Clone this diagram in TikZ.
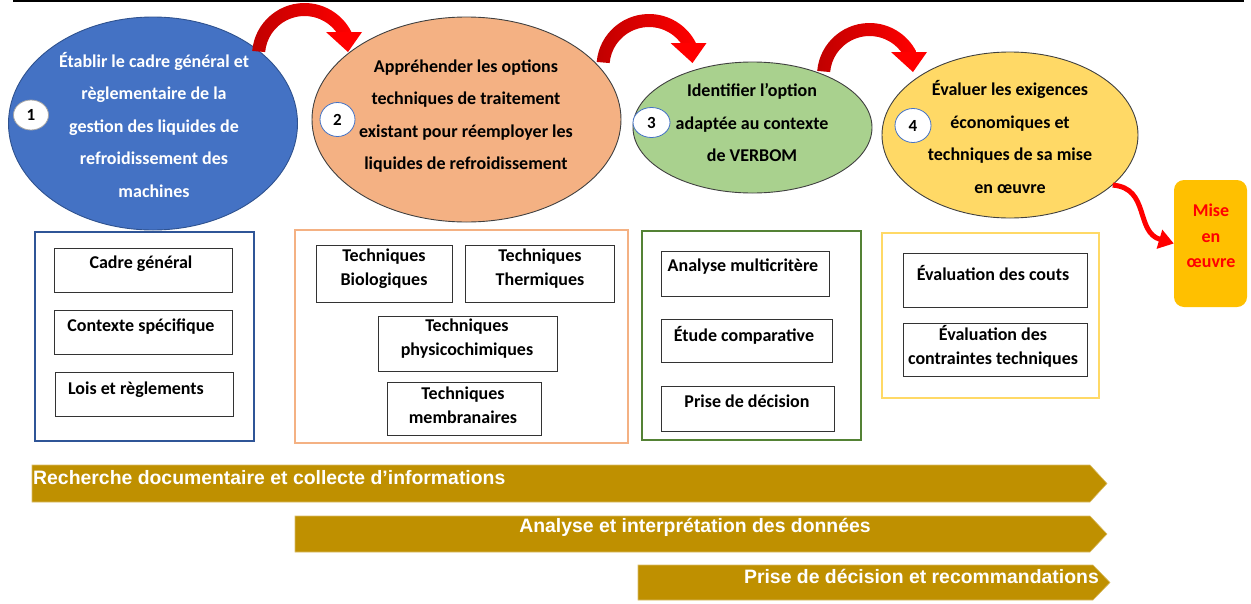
\documentclass[tikz,border=0pt]{standalone}
\usepackage{fontspec}
\setmainfont{Carlito}
\newfontfamily\bannerfont{Liberation Sans}
\usetikzlibrary{arrows.meta,shapes.geometric}
\definecolor{eblue}{HTML}{4472C4}
\definecolor{eblueline}{HTML}{2F528F}
\definecolor{eorange}{HTML}{F4B183}
\definecolor{egreen}{HTML}{A9D18E}
\definecolor{eyellow}{HTML}{FFD966}
\definecolor{gblue}{HTML}{2F5597}
\definecolor{ggreen}{HTML}{548235}
\definecolor{bargold}{HTML}{BF9000}
\definecolor{miseor}{HTML}{FFC000}
\definecolor{adark}{HTML}{C00000}
\definecolor{ared}{HTML}{FF0000}
\begin{document}
\begin{tikzpicture}[x=1pt,y=-1pt,
  bigell/.style={ellipse, inner sep=0pt, line width=0.9pt, draw=black!75},
  numc/.style={ellipse, fill=white, draw=eblue, line width=0.8pt, inner sep=0pt,
    font=\fontsize{17}{17}\selectfont\bfseries},
  etext/.style={align=center, inner sep=0pt, font=\fontsize{18}{32.5}\selectfont\bfseries},
  grp/.style={rectangle, line width=2.8pt, inner sep=0pt},
  ibox/.style={rectangle, draw=black!80, line width=0.9pt, inner sep=0pt},
  itext/.style={align=center, inner sep=0pt, font=\fontsize{18}{24}\selectfont\bfseries},
  bar/.style={fill=bargold, draw=bargold!60!white, line width=0.6pt},
  btext/.style={inner sep=0pt, text=white, font=\bannerfont\fontsize{19.4}{22}\selectfont\bfseries},
  redarc/.pic={
    \shade[left color=adark, right color=ared] (-6.8,-1.07)
      arc[start angle=185, end angle=333, radius=52.5] -- ++(153:13)
      arc[start angle=333, end angle=185, radius=39.5] -- cycle;
    \fill[ared] (67,-20) -- (103,-20) -- (89,0) -- cycle;
  }]
\useasboundingbox (0,0) rectangle (1251,603);

% top rule
\draw[line width=2pt, black] (13,1.2) -- (1244,1.2);

% ellipses
\node[bigell, fill=eblue, draw=eblueline, minimum width=289pt, minimum height=213pt] (e1) at (153,123.5) {};
\node[bigell, fill=eorange, minimum width=309pt, minimum height=205pt] (e2) at (466.5,119.5) {};
\node[bigell, fill=egreen, minimum width=239pt, minimum height=131pt] (e3) at (752.5,127.5) {};
\node[bigell, fill=eyellow, minimum width=256pt, minimum height=166pt] (e4) at (1010,135) {};

\node[etext, text=white] (et1) at (154,125) {Établir le cadre général et\\règlementaire de la\\gestion des liquides de\\refroidissement des\\machines};
\node[etext] (et2) at (466,116) {Appréhender les options\\techniques de traitement\\existant pour réemployer les\\liquides de refroidissement};
\node[etext] (et3) at (752,123) {Identifier l’option\\adaptée au contexte\\de VERBOM};
\node[etext] (et4) at (1010,137) {Évaluer les exigences\\économiques et\\techniques de sa mise\\en œuvre};

% number circles
\node[numc, draw=black!35, minimum width=35pt, minimum height=30pt] (n1) at (31,115) {1};
\node[numc, minimum width=35pt, minimum height=34pt] (n2) at (337.5,119.5) {2};
\node[numc, minimum width=37pt, minimum height=30pt] (n3) at (651.5,122.5) {3};
\node[numc, minimum width=36pt, minimum height=34pt] (n4) at (913,125.5) {4};

% curved red arrows between steps
\coordinate (s1) at (259,52);
\coordinate (s2) at (603.5,63);
\coordinate (s3) at (824,72);
\pic at (s1) {redarc};
\pic at (s2) {redarc};
\pic at (s3) {redarc};

% Mise en oeuvre
\node[rectangle, rounded corners=10pt, fill=miseor, minimum width=73pt, minimum height=127pt, inner sep=0pt] (mise) at (1210.5,243.5) {};
\node[align=center, inner sep=0pt, text=ared, font=\fontsize{18}{25.5}\selectfont\bfseries] (mtext) at (1211,236) {Mise\\en\\œuvre};
\draw[ared, line width=5pt, -{Triangle[length=15pt,width=19pt]}] (e4.-26) .. controls (1150,188) and (1135,232) .. (mise.west);

% group boxes
\node[grp, draw=gblue, minimum width=219pt, minimum height=209pt] (g1) at (144.5,336.5) {};
\node[grp, draw=eorange, minimum width=333pt, minimum height=213pt] (g2) at (461.5,336.5) {};
\node[grp, draw=ggreen, minimum width=219pt, minimum height=209pt] (g3) at (751.5,335.5) {};
\node[grp, draw=eyellow, minimum width=217pt, minimum height=165pt] (g4) at (990.5,315.5) {};

% inner boxes
\node[ibox, minimum width=178pt, minimum height=44pt] (b1a) at (143,270) {};
\node[ibox, minimum width=178pt, minimum height=44pt] (b1b) at (143,332) {};
\node[ibox, minimum width=178pt, minimum height=44pt] (b1c) at (144,394) {};
\node[ibox, minimum width=136pt, minimum height=57pt] (b2a) at (384,273.5) {};
\node[ibox, minimum width=149pt, minimum height=57pt] (b2b) at (539.5,273.5) {};
\node[ibox, minimum width=179pt, minimum height=55pt] (b2c) at (467.5,343.5) {};
\node[ibox, minimum width=154pt, minimum height=53pt] (b2d) at (464,408.5) {};
\node[ibox, minimum width=168pt, minimum height=45pt] (b3a) at (745,273.5) {};
\node[ibox, minimum width=171pt, minimum height=43pt] (b3b) at (746.5,340.5) {};
\node[ibox, minimum width=173pt, minimum height=45pt] (b3c) at (747.5,408.5) {};
\node[ibox, minimum width=184pt, minimum height=54pt] (b4a) at (995,280) {};
\node[ibox, minimum width=184pt, minimum height=53pt] (b4b) at (995,349.5) {};

\node[itext] (t1a) at (141,264) {Cadre général};
\node[itext] (t1b) at (141,327) {Contexte spécifique};
\node[itext] (t1c) at (136,390) {Lois et règlements};
\node[itext] (t2a) at (384,269) {Techniques\\Biologiques};
\node[itext] (t2b) at (540,269) {Techniques\\Thermiques};
\node[itext] (t2c) at (467,339) {Techniques\\physicochimiques};
\node[itext] (t2d) at (463,405) {Techniques\\membranaires};
\node[itext] (t3a) at (743,267) {Analyse multicritère};
\node[itext] (t3b) at (744,335) {Étude comparative};
\node[itext] (t3c) at (747,401) {Prise de décision};
\node[itext] (t4a) at (993,273) {Évaluation des couts};
\node[itext] (t4b) at (993,346) {Évaluation des\\contraintes techniques};

% banners
\filldraw[bar] (32,465) -- (1090,465) -- (1107,483.5) -- (1090,502) -- (32,502) -- cycle;
\filldraw[bar] (295,516) -- (1090,516) -- (1107,534) -- (1090,552) -- (295,552) -- cycle;
\filldraw[bar] (638,565) -- (1093,565) -- (1110,582.5) -- (1093,600) -- (638,600) -- cycle;
\node[btext, anchor=west] (bt1) at (33,478) {Recherche documentaire et collecte d’informations};
\node[btext] (bt2) at (695,527) {Analyse et interprétation des données};
\node[btext, anchor=east] (bt3) at (1099,576) {Prise de décision et recommandations};
\end{tikzpicture}
\end{document}
